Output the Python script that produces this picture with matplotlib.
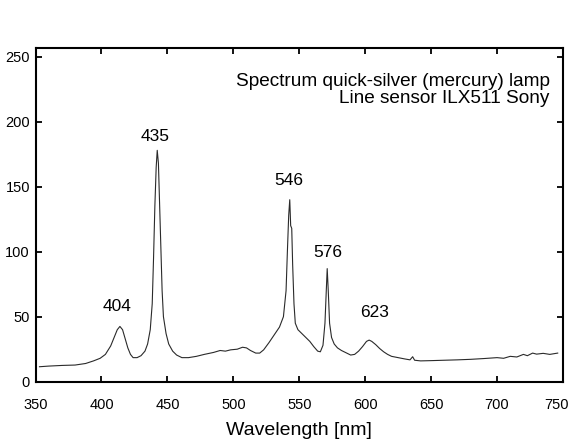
import matplotlib
matplotlib.use("Agg")
import matplotlib.pyplot as plt
from matplotlib.transforms import ScaledTranslation

# spectrum trace (wavelength in nm, sensor counts)
wavelength = [
    353, 360, 370, 380, 388, 394, 399, 403, 407, 410, 412, 414, 416, 418, 420,
    422, 424, 427, 430, 433, 435, 437, 438.5, 439.5, 440.5, 441.5, 442.3, 443.2,
    444, 445, 446, 447, 449, 451, 454, 457, 461, 466, 472, 478, 485, 490, 494,
    498, 503, 507, 510, 513, 517, 520, 523, 527, 531, 535, 538, 540, 541, 542,
    542.8, 543.5, 544.3, 545, 546, 547, 549, 552, 555, 558, 561, 564, 566, 568,
    569.5, 570.5, 571.2, 572, 573, 574.5, 576.5, 579, 582, 586, 589, 592, 595,
    598, 601, 603, 605, 608, 611, 614, 617, 620, 625, 630, 634, 636, 637.5, 642,
    650, 660, 670, 680, 690, 700, 705, 710, 715, 720, 723, 727, 730, 735, 740,
    746,
]
intensity = [
    11.5, 12.0, 12.5, 12.8, 14.0, 16.0, 18.0, 21.0, 27.5, 35.0, 40.0, 42.5, 40.0,
    33.0, 26.0, 21.0, 18.5, 18.5, 20.0, 23.5, 29.0, 40.0, 60.0, 95.0, 135.0,
    165.0, 178.0, 168.0, 140.0, 105.0, 70.0, 50.0, 37.0, 29.0, 23.5, 20.5, 18.5,
    18.5, 19.5, 21.0, 22.5, 24.0, 23.5, 24.5, 25.0, 26.5, 26.0, 24.0, 22.0, 22.0,
    24.5, 30.0, 36.0, 42.0, 50.0, 70.0, 100.0, 128.0, 140.0, 120.0, 118.0, 90.0,
    60.0, 45.0, 40.0, 37.0, 34.0, 31.0, 27.0, 23.5, 23.0, 28.0, 45.0, 70.0, 87.0,
    70.0, 45.0, 34.0, 29.0, 26.0, 24.0, 22.0, 20.5, 21.0, 23.5, 27.0, 31.0, 32.0,
    31.0, 28.5, 25.5, 23.0, 21.0, 19.5, 18.5, 17.5, 16.8, 19.2, 16.5, 16.0, 16.2,
    16.5, 16.8, 17.2, 17.8, 18.5, 18.0, 19.5, 19.0, 21.0, 20.0, 22.0, 21.2, 21.8,
    21.0, 22.0,
]

# mercury line labels and where they sit
line_names = ["404", "435", "546", "576", "623"]
label_x = [411.6, 440.6, 542.2, 571.4, 607.4]
label_y = [57.7, 188.5, 154.4, 99.4, 53.2]

x_ticks = [350, 400, 450, 500, 550, 600, 650, 700, 750]
y_ticks = [0, 50, 100, 150, 200, 250]

plt.rcParams['font.family'] = ['Liberation Sans', 'DejaVu Sans']

fig = plt.figure(figsize=(5.73, 4.41), dpi=100)
ax = fig.add_axes([0.062, 0.1345, 0.9205, 0.756])

ax.plot(wavelength, intensity, color='#2a2a2a', linewidth=0.8)

for name, lx, ly in zip(line_names, label_x, label_y):
    ax.text(lx, ly, name, fontsize=12.5, ha='center', va='center')

ax.text(0.975, 0.925, "Spectrum quick-silver (mercury) lamp\nLine sensor ILX511 Sony",
        transform=ax.transAxes, ha='right', va='top', fontsize=13.7,
        multialignment='right', linespacing=0.95)

ax.set_xlim(350, 750)
ax.set_ylim(0, 256.5)
ax.set_xticks(x_ticks)
ax.set_yticks(y_ticks)
ax.tick_params(direction='in', top=True, right=True, length=4, width=1.3,
               labelsize=10.5)
ax.tick_params(axis='x', pad=12)
ax.tick_params(axis='y', pad=4)
for sp in ax.spines.values():
    sp.set_linewidth(1.5)

# last x label sits a little left of its tick in the original
last = ax.get_xticklabels()[-1]
last.set_transform(last.get_transform() + ScaledTranslation(-4.5 / 72, 0, fig.dpi_scale_trans))

ax.set_xlabel("Wavelength [nm]", fontsize=14, labelpad=7)

fig.savefig("out.png", dpi=100)
